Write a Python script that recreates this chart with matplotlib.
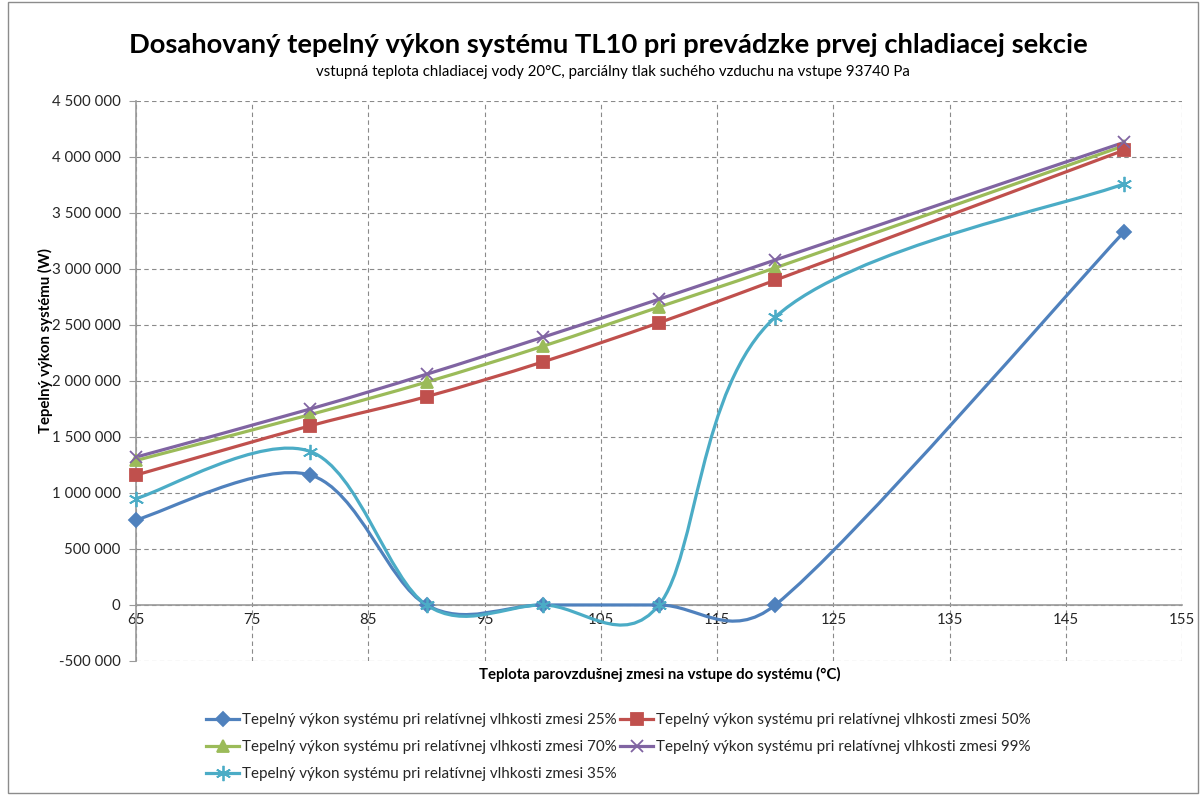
import numpy as np
import matplotlib
matplotlib.use("Agg")
import matplotlib.pyplot as plt
from matplotlib.path import Path
from matplotlib.patches import PathPatch, Rectangle
from matplotlib.ticker import FuncFormatter

plt.rcParams['font.family'] = ['Lato', 'DejaVu Sans']

teplota = [65, 80, 90, 100, 110, 120, 150]
vykon_25 = [760000, 1160000, 0, 0, 0, 0, 3330000]
vykon_35 = [950000, 1370000, 0, 0, 0, 2570000, 3760000]
vykon_50 = [1160000, 1600000, 1860000, 2170000, 2520000, 2900000, 4060000]
vykon_70 = [1290000, 1700000, 1990000, 2310000, 2660000, 3010000, 4100000]
vykon_99 = [1320000, 1750000, 2060000, 2390000, 2730000, 3080000, 4130000]

popis = 'Tepelný výkon systému pri relatívnej vlhkosti zmesi '
serie = [
    (vykon_25, '25%', '#4F81BD', 'D', 7),
    (vykon_70, '70%', '#9BBB59', '^', 9),
    (vykon_35, '35%', '#4BACC6', (6, 2, 0), 11),
    (vykon_50, '50%', '#C0504D', 's', 8),
    (vykon_99, '99%', '#8064A2', 'x', 9),
]


def hladka_krivka(ax, x, y):
    # Excel-like smoothed line: cubic Bezier, control arm = min(d/6, segment/2), in screen space
    pts = ax.transData.transform(np.column_stack([x, y]))
    n = len(pts)
    verts = [pts[0]]
    codes = [Path.MOVETO]
    for i in range(n - 1):
        p0 = pts[max(i - 1, 0)]
        p1 = pts[i]
        p2 = pts[i + 1]
        p3 = pts[min(i + 2, n - 1)]
        seg = np.linalg.norm(p2 - p1)
        t1 = p2 - p0
        t2 = p3 - p1
        d1 = np.linalg.norm(t1)
        d2 = np.linalg.norm(t2)
        c1 = p1 + (t1 * min(1 / 6, seg / 2 / d1) if d1 > 0 else 0)
        c2 = p2 - (t2 * min(1 / 6, seg / 2 / d2) if d2 > 0 else 0)
        verts += [c1, c2, p2]
        codes += [Path.CURVE4] * 3
    verts = ax.transData.inverted().transform(np.array(verts))
    return Path(verts, codes)


fig = plt.figure(figsize=(12.02, 7.95), dpi=100)
fig.patches.append(Rectangle((0.007, 0.003), 0.99, 0.994, transform=fig.transFigure,
                             fill=False, edgecolor='#8c8c8c', linewidth=1))
ax = fig.add_axes([0.1131, 0.1686, 0.8703, 0.7044])
ax.set_xlim(65, 155)
ax.set_ylim(-500000, 4500000)
ax.set_xticks(np.arange(65, 156, 10))
ax.set_yticks(np.arange(-500000, 4500001, 500000))
ax.yaxis.set_major_formatter(FuncFormatter(lambda v, p: f'{int(v):,}'.replace(',', ' ')))
ax.grid(True, linestyle=(0, (4, 3)), color='#8a8a8a', linewidth=0.8)
ax.set_axisbelow(True)
for s in ['top', 'right']:
    ax.spines[s].set_visible(False)
ax.spines['bottom'].set_position(('data', 0))
ax.spines['bottom'].set_color('#9a9a9a')
ax.spines['left'].set_color('#9a9a9a')
ax.spines['bottom'].set_linewidth(1.2)
ax.spines['left'].set_linewidth(1.2)
ax.tick_params(axis='y', length=5, pad=6, color='#9a9a9a', labelsize=10.8, labelcolor='#262626')
ax.tick_params(axis='x', length=0, pad=6, labelsize=10.8, labelcolor='#262626')

handles = []
for y, lab, col, mk, ms in serie:
    ax.add_patch(PathPatch(hladka_krivka(ax, teplota, y), facecolor='none',
                           edgecolor=col, linewidth=2.3, zorder=3, clip_on=False))
    ax.plot(teplota, y, linestyle='none', marker=mk, markersize=ms, color=col,
            markeredgecolor=col, markeredgewidth=1.3, zorder=4, clip_on=False)
    h, = ax.plot([], [], color=col, linewidth=2.3, marker=mk, markersize=ms,
                 markeredgewidth=1.3, label=popis + lab)
    handles.append(h)

fig.text(0.506, 0.943, 'Dosahovaný tepelný výkon systému TL10 pri prevádzke prvej chladiacej sekcie',
         ha='center', va='center', fontsize=19.7, fontweight='bold')
fig.text(0.510, 0.909, 'vstupná teplota chladiacej vody 20°C, parciálny tlak suchého vzduchu na vstupe 93740 Pa',
         ha='center', va='center', fontsize=10.8)
fig.text(0.549, 0.152, 'Teplota parovzdušnej zmesi na vstupe do systému (°C)',
         ha='center', va='center', fontsize=10.8, fontweight='bold')
fig.text(0.038, 0.572, 'Tepelný výkon systému (W)', rotation=90,
         ha='center', va='center', fontsize=10.8, fontweight='bold')

fig.legend(handles=handles, loc='upper left', bbox_to_anchor=(0.160, 0.12), ncol=2,
           frameon=False, fontsize=10.9, handlelength=2.2, handletextpad=0.2,
           columnspacing=0.2, labelspacing=0.85, labelcolor='#262626')

fig.savefig('out.png', dpi=100)
